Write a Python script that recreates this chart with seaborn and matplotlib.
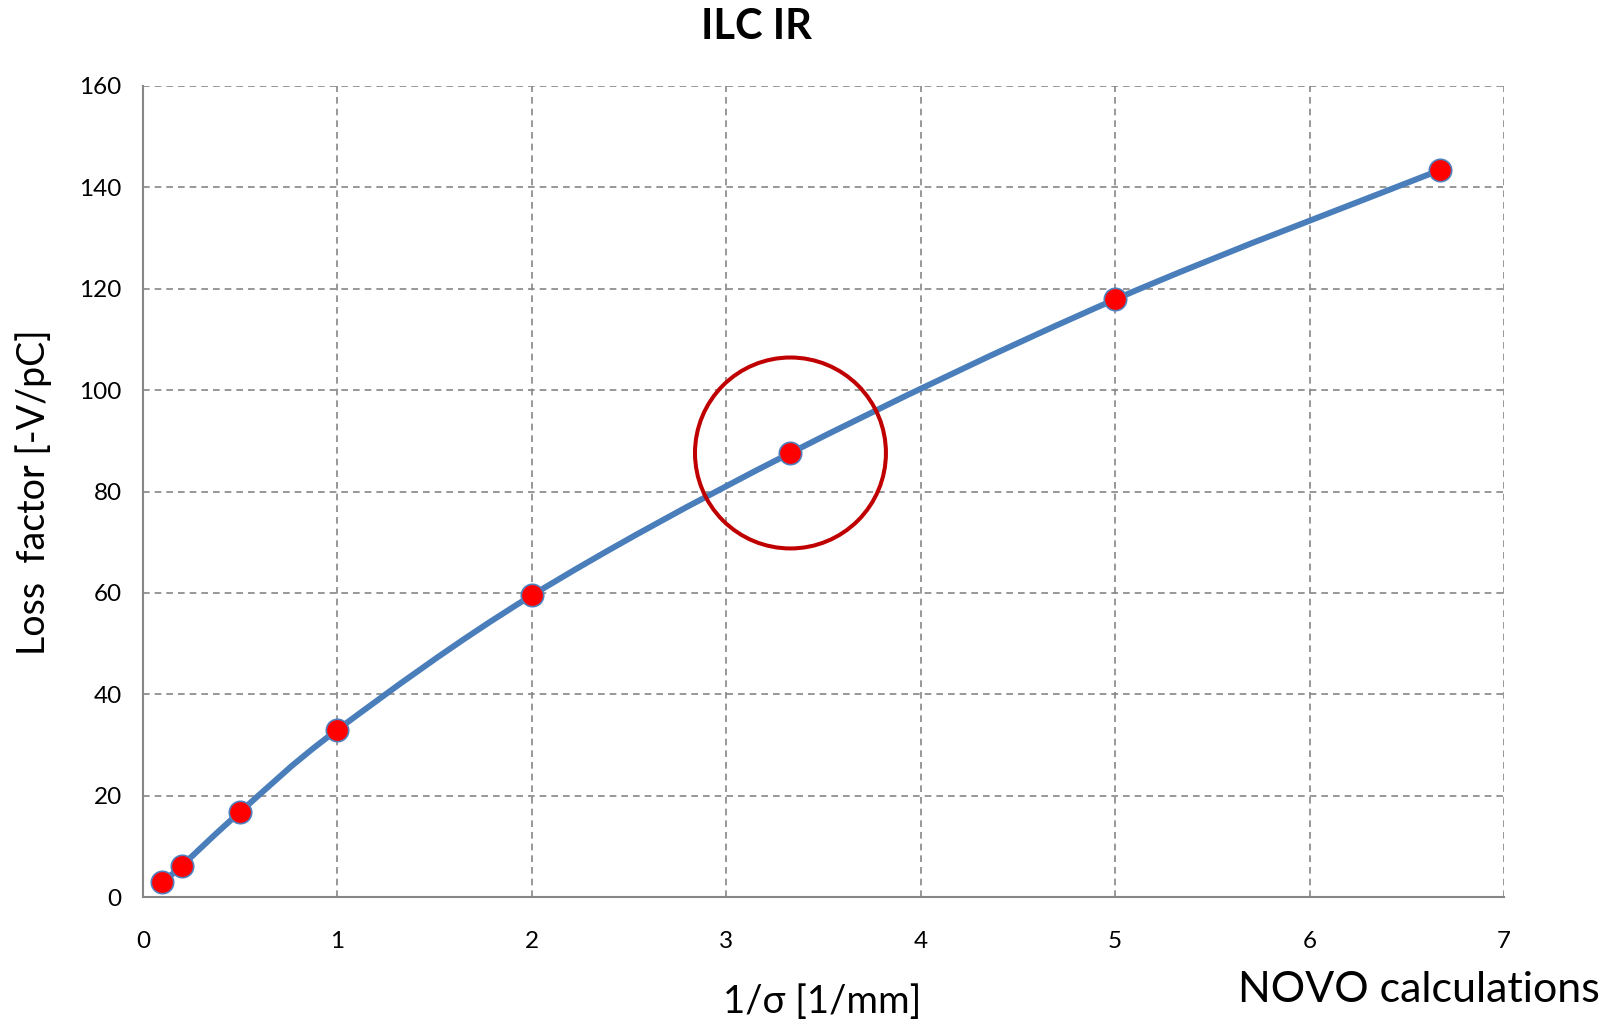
import numpy as np
import seaborn as sns
from matplotlib import pyplot as plt
from matplotlib.path import Path
from matplotlib.patches import PathPatch

# values
inv_sigma = [0.1, 0.2, 0.5, 1.0, 2.0, 3.33, 5.0, 6.67]
loss_factor = [2.9, 6.2, 16.8, 33.0, 59.5, 87.6, 117.9, 143.4]
highlight_x = [3.33]
highlight_y = [87.6]
x_ticks = [0, 1, 2, 3, 4, 5, 6, 7]
y_ticks = [0, 20, 40, 60, 80, 100, 120, 140, 160]

sns.set_theme(style="white")
plt.rcParams["font.family"] = ["Lato", "DejaVu Sans"]
plt.rcParams["text.color"] = "black"

grid_grey = "#868686"
line_blue = "#4A7EBB"

fig = plt.figure(figsize=(16.16, 10.26), dpi=100)
ax = fig.add_axes([0.0885, 0.1257, 0.8422, 0.7905])

# Excel-style smoothed line: cubic bezier segments through the points
pts = np.column_stack([inv_sigma, loss_factor])
n = len(pts)
verts = [pts[0]]
codes = [Path.MOVETO]
for i in range(n - 1):
    p0 = pts[max(i - 1, 0)]
    p1 = pts[i]
    p2 = pts[i + 1]
    p3 = pts[min(i + 2, n - 1)]
    verts += [p1 + (p2 - p0) / 6, p2 - (p3 - p1) / 6, p2]
    codes += [Path.CURVE4] * 3
ax.add_patch(PathPatch(Path(verts, codes), facecolor="none", edgecolor=line_blue,
                       linewidth=4.3, capstyle="round", zorder=3))

sns.scatterplot(x=inv_sigma, y=loss_factor, s=260, color="#FF0000",
                edgecolor="#4F81BD", linewidth=1.2, zorder=4, ax=ax)

# red ring around the highlighted point
ax.scatter(highlight_x, highlight_y, s=18900, facecolor="none",
           edgecolor="#C00000", linewidth=2.9, zorder=5)

ax.set_xlim(0, 7)
ax.set_ylim(0, 160)
ax.set_xticks(x_ticks)
ax.set_yticks(y_ticks)

ax.grid(True, color=grid_grey, linestyle=(0, (4, 3)), linewidth=1.2)
ax.set_axisbelow(True)
for side in ["top", "right"]:
    ax.spines[side].set_visible(False)
for side in ["left", "bottom"]:
    ax.spines[side].set_color(grid_grey)
    ax.spines[side].set_linewidth(1.5)

ax.tick_params(axis="both", direction="inout", length=8.6, width=1.2,
               color=grid_grey, labelsize=17.5, labelcolor="black")
ax.tick_params(axis="x", pad=20)
ax.tick_params(axis="y", pad=11)

fig.text(756 / 1616, 1 - 27 / 1026, "ILC IR", fontsize=30, fontweight="bold",
         ha="center", va="center")
fig.text(34 / 1616, 1 - 492 / 1026, "Loss  factor [-V/pC]", fontsize=27,
         rotation=90, ha="center", va="center")
fig.text(822 / 1616, 1 - 1002 / 1026, "1/σ [1/mm]", fontsize=27.5,
         ha="center", va="center")
fig.text(1419 / 1616, 1 - 990 / 1026, "NOVO calculations", fontsize=31,
         ha="center", va="center")

plt.savefig("out.png", dpi=100)
